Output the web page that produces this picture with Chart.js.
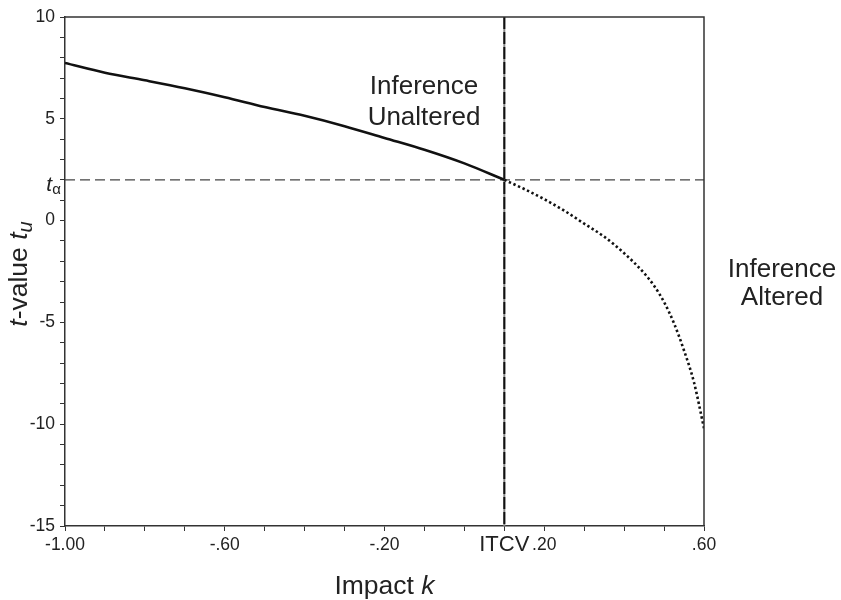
<!DOCTYPE html>
<html>
<head>
<meta charset="utf-8">
<script src="https://cdn.jsdelivr.net/npm/chart.js@4.4.0/dist/chart.umd.min.js"></script>
<style>
  body { margin: 0; background: #fff; }
  #wrap { width: 841px; height: 600px; }
</style>
</head>
<body>
<div id="wrap"><canvas id="itcvChart" width="841" height="600"></canvas></div>
<script>
// values
const solidK = [-1.0, -0.9, -0.8, -0.7, -0.6, -0.5, -0.4, -0.3, -0.2, -0.1, 0.0, 0.1];
const solidT = [7.74, 7.26, 6.89, 6.50, 6.06, 5.58, 5.15, 4.64, 4.06, 3.48, 2.81, 2.0];
const dottedK = [0.1, 0.15, 0.2, 0.25, 0.3, 0.35, 0.4, 0.45, 0.475, 0.5, 0.525, 0.55, 0.575, 0.6];
const dottedT = [2.0, 1.55, 1.05, 0.49, -0.15, -0.79, -1.6, -2.58, -3.2, -4.0, -5.05, -6.38, -7.95, -10.2];
const tAlpha = 2.0;
const itcv = 0.1;
const xLabelValues = [-1.0, -0.6, -0.2, 0.2, 0.6];
const xLabelText = ["-1.00", "-.60", "-.20", ".20", ".60"];
const yLabelValues = [10, 5, 0, -5, -10, -15];
const yLabelText = ["10", "5", "0", "-5", "-10", "-15"];

const FONT = "'Liberation Sans', Arial, Helvetica, sans-serif";
Chart.defaults.font.family = FONT;
Chart.defaults.color = "#222";

function toPoints(xs, ys) {
  return xs.map(function (x, i) { return { x: x, y: ys[i] }; });
}

// reference lines, frame and the hand-set text pieces
const extras = {
  id: "extras",
  beforeDatasetsDraw(chart) {
    const ctx = chart.ctx;
    const a = chart.chartArea;
    const xs = chart.scales.x, ys = chart.scales.y;
    const yA = ys.getPixelForValue(tAlpha);
    const xI = xs.getPixelForValue(itcv);
    ctx.save();
    ctx.strokeStyle = "#444";
    ctx.lineWidth = 1.3;
    ctx.setLineDash([10, 5]);
    ctx.beginPath();
    ctx.moveTo(a.left, yA);
    ctx.lineTo(a.right, yA);
    ctx.stroke();
    ctx.setLineDash([]);
    ctx.strokeStyle = "#888";
    ctx.lineWidth = 2;
    ctx.beginPath();
    ctx.moveTo(xI, a.top);
    ctx.lineTo(xI, a.bottom);
    ctx.stroke();
    ctx.strokeStyle = "#111";
    ctx.setLineDash([12, 3]);
    ctx.beginPath();
    ctx.moveTo(xI, a.top);
    ctx.lineTo(xI, a.bottom);
    ctx.stroke();
    ctx.restore();
  },
  afterDraw(chart) {
    const ctx = chart.ctx;
    const a = chart.chartArea;
    const xs = chart.scales.x, ys = chart.scales.y;
    ctx.save();
    // top and right side of the box
    ctx.strokeStyle = "#333";
    ctx.lineWidth = 1.5;
    ctx.beginPath();
    ctx.moveTo(a.left, a.top);
    ctx.lineTo(a.right, a.top);
    ctx.lineTo(a.right, a.bottom);
    ctx.stroke();

    ctx.fillStyle = "#222";
    ctx.textBaseline = "alphabetic";

    // ITCV under the axis
    ctx.font = "22px " + FONT;
    ctx.textAlign = "center";
    ctx.fillText("ITCV", xs.getPixelForValue(itcv), 551);

    // t alpha on the y axis
    const yA = ys.getPixelForValue(tAlpha);
    ctx.textAlign = "right";
    ctx.font = "15px " + FONT;
    ctx.fillText("\u03b1", 61, yA + 14);
    ctx.font = "italic 21px " + FONT;
    ctx.fillText("t", 52, yA + 11);

    // region notes
    ctx.textAlign = "center";
    ctx.font = "26px " + FONT;
    ctx.fillText("Inference", 424, 94);
    ctx.fillText("Unaltered", 424, 125);
    ctx.fillText("Inference", 782, 277);
    ctx.fillText("Altered", 782, 305);

    // x title: Impact k
    ctx.textAlign = "left";
    ctx.font = "26.5px " + FONT;
    const w1 = ctx.measureText("Impact ").width;
    ctx.font = "italic 26.5px " + FONT;
    const w2 = ctx.measureText("k").width;
    let x0 = (a.left + a.right) / 2 - (w1 + w2) / 2;
    ctx.font = "26.5px " + FONT;
    ctx.fillText("Impact ", x0, 594);
    ctx.font = "italic 26.5px " + FONT;
    ctx.fillText("k", x0 + w1, 594);

    // y title: t-value t_u, rotated
    ctx.translate(27, 274);
    ctx.rotate(-Math.PI / 2);
    const parts = [
      { t: "t", f: "italic 26.5px ", dy: 0 },
      { t: "-value ", f: "26.5px ", dy: 0 },
      { t: "t", f: "italic 26.5px ", dy: 0 },
      { t: "u", f: "italic 20px ", dy: 5 }
    ];
    let total = 0;
    parts.forEach(function (p) { ctx.font = p.f + FONT; p.w = ctx.measureText(p.t).width; total += p.w; });
    let px = -total / 2;
    parts.forEach(function (p) {
      ctx.font = p.f + FONT;
      ctx.fillText(p.t, px, p.dy);
      px += p.w;
    });
    ctx.restore();
  }
};

document.addEventListener("DOMContentLoaded", function () {
  var ctx = document.getElementById("itcvChart").getContext("2d");
  var chart = new Chart(ctx, {
    type: "line",
    data: {
      datasets: [
        {
          label: "Inference unaltered",
          data: toPoints(solidK, solidT),
          borderColor: "#111",
          borderWidth: 2.6,
          pointRadius: 0,
          cubicInterpolationMode: "monotone",
          fill: false
        },
        {
          label: "Inference altered",
          data: toPoints(dottedK, dottedT),
          borderColor: "#111",
          borderWidth: 2.6,
          borderDash: [2.4, 2.6],
          pointRadius: 0,
          cubicInterpolationMode: "monotone",
          fill: false
        }
      ]
    },
    options: {
      responsive: false,
      animation: false,
      layout: { padding: { top: 17, right: 137, bottom: 0, left: 0 } },
      plugins: { legend: { display: false }, tooltip: { enabled: false } },
      scales: {
        x: {
          type: "linear",
          min: -1,
          max: 0.6,
          afterFit: function (scale) { scale.height = 74; },
          border: { color: "#333", width: 1.5 },
          grid: { drawOnChartArea: false, tickLength: 5, color: "#333", lineWidth: 1 },
          ticks: {
            stepSize: 0.1,
            autoSkip: false,
            maxRotation: 0,
            padding: 4,
            font: { size: 17.5 },
            color: "#222",
            callback: function (v) {
              var i = xLabelValues.findIndex(function (l) { return Math.abs(l - v) < 1e-6; });
              return i >= 0 ? xLabelText[i] : "";
            }
          }
        },
        y: {
          min: -15,
          max: 10,
          afterFit: function (scale) { scale.width = 65; },
          border: { color: "#333", width: 1.5 },
          grid: { drawOnChartArea: false, tickLength: 5, color: "#333", lineWidth: 1 },
          ticks: {
            stepSize: 1,
            autoSkip: false,
            padding: 5,
            font: { size: 17.5 },
            color: "#222",
            callback: function (v) {
              var i = yLabelValues.indexOf(Math.round(v));
              return i >= 0 && Math.abs(v - Math.round(v)) < 1e-6 ? yLabelText[i] : "";
            }
          }
        }
      }
    },
    plugins: [extras]
  });
});
</script>
</body>
</html>
